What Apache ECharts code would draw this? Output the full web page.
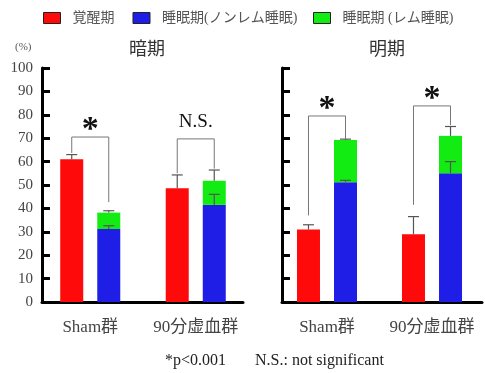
<!DOCTYPE html>
<html><head><meta charset="utf-8">
<script src="https://cdn.jsdelivr.net/npm/echarts@6/dist/echarts.min.js"></script>
<style>html,body{margin:0;padding:0;background:#fff}#c{width:485px;height:373px}</style>
</head><body><div id="c"></div>
<script>
const categories = ['Sham群', '90分虚血群'];
const yTicks = [0, 10, 20, 30, 40, 50, 60, 70, 80, 90, 100];
// 暗期 (dark period)
const darkWake = [61, 48.6];
const darkNrem = [31.2, 41.5];
const darkRem = [7.0, 10.3];
const darkWakeErr = [63, 54.3];
const darkNremErr = [32.6, 46];
const darkRemErr = [39, 56.4];
// 明期 (light period)
const lightWake = [31, 29];
const lightNrem = [51.2, 55];
const lightRem = [18.0, 16.0];
const lightWakeErr = [33, 36.5];
const lightNremErr = [52, 60];
const lightRemErr = [69.6, 75];
// significance brackets: [leftLegBottom, rightLegBottom, top, label]
const darkSig = [[63.7, 42.7, 70.5, '*'], [55, 57, 69.7, 'N.S.']];
const lightSig = [[37, 69.7, 79.5, '*'], [41.5, 75.6, 83.8, '*']];

const C_RED = '#ff0a0a', C_BLUE = '#1e1ee6', C_GREEN = '#12ec12';
const serif = '"Liberation Serif","DejaVu Serif","Noto Sans CJK JP",serif';
const BAR_W = 23, BAR_GAP = 0.61;
const OFF = (BAR_W + BAR_W * BAR_GAP) / 2;

function errData(wake, nrem, rem, wErr, nErr, rErr) {
  const d = [];
  for (let i = 0; i < categories.length; i++) {
    d.push([i, wake[i], wErr[i], -1]);
    d.push([i, nrem[i], nErr[i], 1]);
    d.push([i, nrem[i] + rem[i], rErr[i], 1]);
  }
  return d;
}
function errRender(params, api) {
  const i = api.value(0);
  const b = api.coord([i, api.value(1)]);
  const t = api.coord([i, api.value(2)]);
  const x = b[0] + api.value(3) * OFF;
  const st = { stroke: '#555', lineWidth: 1.2 };
  return { type: 'group', children: [
    { type: 'line', shape: { x1: x, y1: b[1], x2: x, y2: t[1] }, style: st },
    { type: 'line', shape: { x1: x - 5.5, y1: t[1], x2: x + 5.5, y2: t[1] }, style: st }
  ]};
}
const sigSrc = { sigDark: darkSig, sigLight: lightSig };
function sigData(sig) { return sig.map((s, i) => [i, s[0], s[1], s[2]]); }
function sigRender(params, api) {
  const i = api.value(0);
  const lb = api.coord([i, api.value(1)]);
  const rb = api.coord([i, api.value(2)]);
  const tp = api.coord([i, api.value(3)]);
  const label = sigSrc[params.seriesName][params.dataIndex][3];
  const xl = lb[0] - OFF, xr = lb[0] + OFF;
  const isStar = label === '*';
  return { type: 'group', children: [
    { type: 'polyline', shape: { points: [[xl, lb[1]], [xl, tp[1]], [xr, tp[1]], [xr, rb[1]]] }, style: { fill: null, stroke: '#777', lineWidth: 1 } },
    { type: 'text', x: (xl + xr) / 2, y: tp[1] + (isStar ? -7 : -17), style: {
      text: label, fill: '#111', align: 'center', verticalAlign: 'middle',
      font: isStar ? 'bold 34px ' + serif : '19px ' + serif } }
  ]};
}

// frame axes (drawn in grids 2 and 3)
function frameY(gi, showLabel) {
  return {
    gridIndex: gi, type: 'value', min: 0, max: 100, interval: 10,
    axisLine: { show: true, onZero: false, lineStyle: { color: '#000', width: 3 } },
    axisTick: { show: true, inside: true, length: 8, lineStyle: { color: '#000', width: 3 } },
    splitLine: { show: false },
    axisLabel: { show: showLabel, color: '#444', fontFamily: serif, fontSize: 15, margin: 9,
      formatter: v => yTicks.indexOf(v) >= 0 ? String(v) : '' }
  };
}
function frameX(gi) {
  return {
    gridIndex: gi, type: 'value', min: 0, max: 1,
    splitLine: { show: false }, axisTick: { show: false }, axisLabel: { show: false },
    axisLine: { show: true, onZero: false, lineStyle: { color: '#000', width: 3 } }
  };
}
// data axes (bars, grids 0 and 1)
function dataY(gi) {
  return { gridIndex: gi, type: 'value', min: 0, max: 100, show: false };
}
function dataX(gi) {
  return {
    gridIndex: gi, type: 'category', data: categories,
    axisLine: { show: false }, axisTick: { show: false },
    axisLabel: { interval: 0, color: '#444', fontFamily: serif, fontSize: 17, margin: 17 }
  };
}
function bars(gi, wake, nrem, rem) {
  return [
    { name: '覚醒期', type: 'bar', xAxisIndex: gi, yAxisIndex: gi, data: wake, barWidth: BAR_W, barGap: Math.round(BAR_GAP * 100) + '%', itemStyle: { color: C_RED }, z: 2 },
    { name: '睡眠期(ノンレム睡眠)', type: 'bar', xAxisIndex: gi, yAxisIndex: gi, data: nrem, stack: 's' + gi, barWidth: BAR_W, itemStyle: { color: C_BLUE }, z: 2 },
    { name: '睡眠期 (レム睡眠)', type: 'bar', xAxisIndex: gi, yAxisIndex: gi, data: rem, stack: 's' + gi, barWidth: BAR_W, itemStyle: { color: C_GREEN }, z: 2 }
  ];
}

const legendBase = {
  top: 6, itemWidth: 17, itemHeight: 11, itemGap: 18, icon: 'rect',
  itemStyle: { borderColor: '#222', borderWidth: 1 },
  textStyle: { color: '#555', fontSize: 14, fontFamily: serif, padding: [0, 0, 0, 7] }
};

const chart = echarts.init(document.getElementById('c'), null, { renderer: 'canvas' });
chart.setOption({
  animation: false,
  backgroundColor: '#fff',
  textStyle: { fontFamily: serif },
  legend: [
    Object.assign({}, legendBase, { left: 38, data: ['覚醒期', '睡眠期(ノンレム睡眠)'] }),
    Object.assign({}, legendBase, { left: 308, data: ['睡眠期 (レム睡眠)'] })
  ],
  graphic: [
    { type: 'text', x: 147, y: 50, style: { text: '暗期', fill: '#333', font: '18px ' + serif, align: 'center', verticalAlign: 'middle' } },
    { type: 'text', x: 387, y: 50, style: { text: '明期', fill: '#333', font: '18px ' + serif, align: 'center', verticalAlign: 'middle' } },
    { type: 'text', x: 15, y: 47, style: { text: '(%)', fill: '#555', font: '11px ' + serif, verticalAlign: 'middle' } },
    { type: 'text', x: 165, y: 361, style: { text: '*p<0.001', fill: '#222', font: '16px ' + serif, verticalAlign: 'middle' } },
    { type: 'text', x: 255, y: 361, style: { text: 'N.S.: not significant', fill: '#222', font: '16px ' + serif, verticalAlign: 'middle' } }
  ],
  grid: [
    { left: 37.5, top: 68, width: 211, height: 234 },
    { left: 274.5, top: 68, width: 210, height: 234 },
    { left: 42, top: 68, width: 201, height: 234 },
    { left: 282, top: 68, width: 200, height: 234 }
  ],
  xAxis: [dataX(0), dataX(1), frameX(2), frameX(3)],
  yAxis: [dataY(0), dataY(1), frameY(2, true), frameY(3, false)],
  series: [
    ...bars(0, darkWake, darkNrem, darkRem),
    ...bars(1, lightWake, lightNrem, lightRem),
    { type: 'custom', name: 'errDark', xAxisIndex: 0, yAxisIndex: 0, renderItem: errRender, data: errData(darkWake, darkNrem, darkRem, darkWakeErr, darkNremErr, darkRemErr), z: 5 },
    { type: 'custom', name: 'errLight', xAxisIndex: 1, yAxisIndex: 1, renderItem: errRender, data: errData(lightWake, lightNrem, lightRem, lightWakeErr, lightNremErr, lightRemErr), z: 5 },
    { type: 'custom', name: 'sigDark', xAxisIndex: 0, yAxisIndex: 0, renderItem: sigRender, data: sigData(darkSig), z: 5 },
    { type: 'custom', name: 'sigLight', xAxisIndex: 1, yAxisIndex: 1, renderItem: sigRender, data: sigData(lightSig), z: 5 }
  ]
});
</script></body></html>
